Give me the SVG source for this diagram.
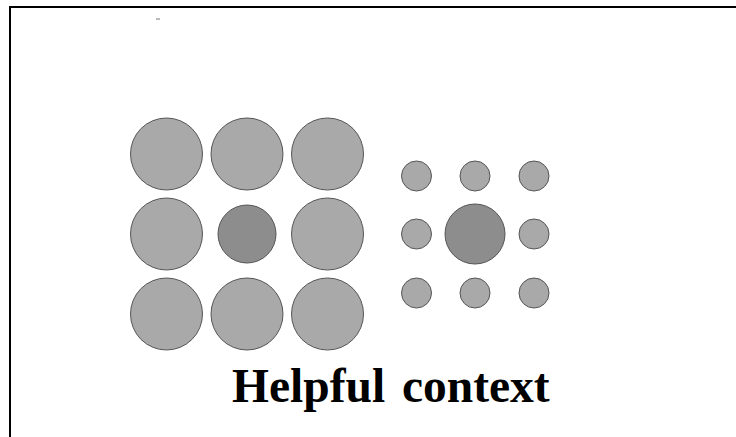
<svg xmlns="http://www.w3.org/2000/svg" width="736" height="437" viewBox="0 0 736 437">
<style>
.lt{fill:#a9a9a9;stroke:#555;stroke-width:1}
.dk{fill:#8d8d8d;stroke:#555;stroke-width:1}
.frame{fill:none;stroke:#000;stroke-width:2}
.title{font-family:"Liberation Serif","Times New Roman",serif;font-weight:bold;font-size:47.5px;word-spacing:5px;fill:#000}
</style>
<rect width="736" height="437" fill="#fff"/>
<path class="frame" d="M10 437 V7 H736"/>
<rect x="156" y="18.5" width="4" height="1" fill="#777"/>
<g id="left-group">
<circle class="lt" cx="166.5" cy="154" r="36"/>
<circle class="lt" cx="247" cy="154" r="36"/>
<circle class="lt" cx="327.5" cy="154" r="36"/>
<circle class="lt" cx="166.5" cy="234" r="36"/>
<circle class="dk" cx="247" cy="234" r="29"/>
<circle class="lt" cx="327.5" cy="234" r="36"/>
<circle class="lt" cx="166.5" cy="314" r="36"/>
<circle class="lt" cx="247" cy="314" r="36"/>
<circle class="lt" cx="327.5" cy="314" r="36"/>
</g>
<g id="right-group">
<circle class="lt" cx="416.5" cy="176" r="15"/>
<circle class="lt" cx="475" cy="176" r="15"/>
<circle class="lt" cx="534" cy="176" r="15"/>
<circle class="lt" cx="416.5" cy="234" r="15"/>
<circle class="dk" cx="475" cy="234" r="30"/>
<circle class="lt" cx="534" cy="234" r="15"/>
<circle class="lt" cx="416.5" cy="293" r="15"/>
<circle class="lt" cx="475" cy="293" r="15"/>
<circle class="lt" cx="534" cy="293" r="15"/>
</g>
<g id="connectors"/>
<text class="title" x="232" y="402">Helpful context</text>
</svg>
